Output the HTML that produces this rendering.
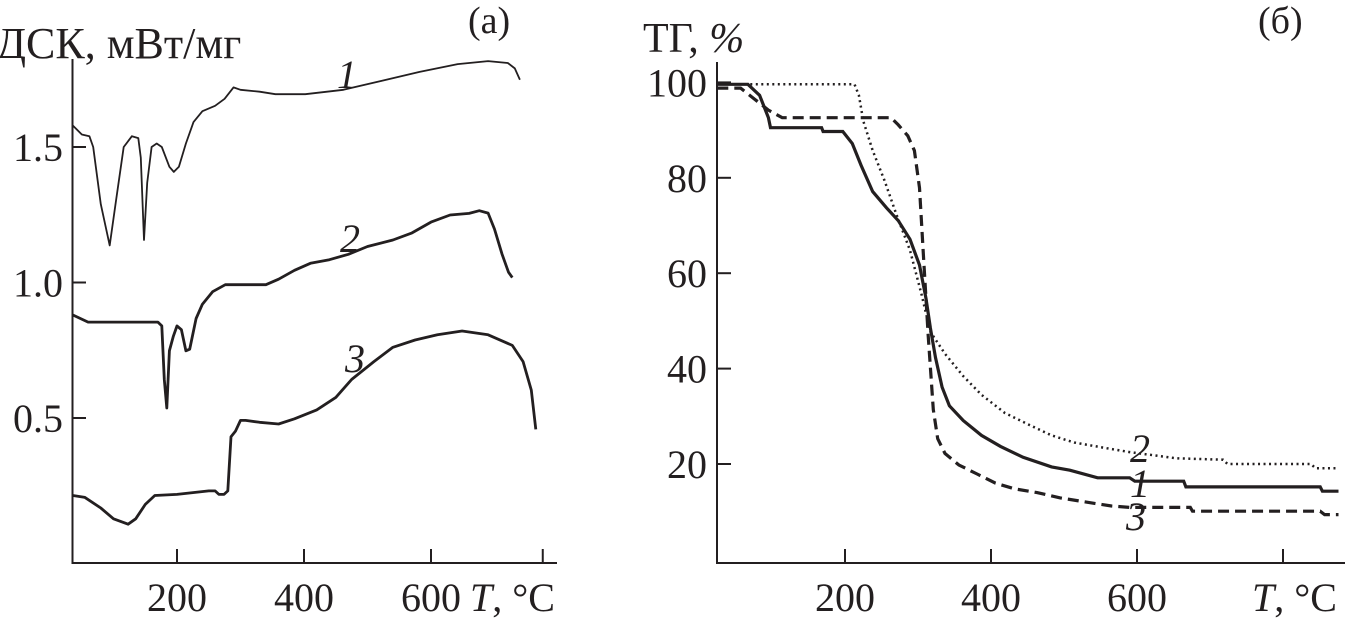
<!DOCTYPE html>
<html><head><meta charset="utf-8"><style>
html,body{margin:0;padding:0;background:#fff}
svg{display:block}
text{font-family:"Liberation Serif",serif;fill:#231f20}
</style></head><body>
<svg id="chart" width="1345" height="620" viewBox="0 0 1345 620">
<g id="left"></g>
<g id="right"></g>
</svg>
<script>
// ---- Left panel (DSC) data ----
const dscXTicks = [200, 400, 600, 776];
const dscXTickLabels = ["200", "400", "600"];
const dscYTicks = [1.5, 1.0, 0.5];
const dscYTickLabels = ["1.5", "1.0", "0.5"];
const dsc1T = [36,50,62,68,80,94,104,116,129,139,143,148,153,160,168,176,188,195,203,214,226,240,260,275,289,300,330,355,402,462,522,582,642,690,721,732,740];
const dsc1V = [1.579,1.546,1.54,1.5,1.289,1.137,1.302,1.5,1.54,1.533,1.46,1.157,1.368,1.5,1.513,1.5,1.427,1.408,1.427,1.513,1.592,1.632,1.652,1.678,1.72,1.711,1.704,1.695,1.695,1.711,1.744,1.777,1.806,1.817,1.81,1.79,1.748];
const dsc2T = [36,60,150,170,176,180,184,188,194,200,207,214,220,230,240,256,276,290,340,360,385,410,440,470,500,540,570,600,630,660,676,690,700,712,722,728];
const dsc2V = [0.88,0.854,0.854,0.854,0.84,0.642,0.537,0.748,0.8,0.84,0.826,0.748,0.754,0.867,0.92,0.966,0.992,0.992,0.992,1.012,1.045,1.071,1.084,1.104,1.133,1.157,1.183,1.223,1.249,1.255,1.265,1.256,1.197,1.104,1.038,1.018];
const dsc3T = [36,55,80,100,123,135,150,165,200,250,260,266,274,280,285,292,300,308,330,360,385,420,450,475,510,540,575,610,649,690,728,745,758,765];
const dsc3V = [0.214,0.207,0.168,0.128,0.108,0.128,0.181,0.214,0.218,0.231,0.231,0.218,0.218,0.231,0.431,0.451,0.491,0.491,0.484,0.478,0.497,0.53,0.576,0.642,0.708,0.761,0.788,0.807,0.821,0.807,0.768,0.708,0.603,0.458];

// ---- Right panel (TG) data ----
const tgXTicks = [200, 400, 600, 800];
const tgXTickLabels = ["200", "400", "600"];
const tgYTicks = [100, 80, 60, 40, 20];
const tgYTickLabels = ["100", "80", "60", "40", "20"];
const tg1T = [25,67,83,95,98,168,170,197,210,222,238,257,273,289,302,311,317,324,333,343,362,387,413,444,483,508,546,590,597,664,667,851,854,876];
const tg1V = [99.6,99.6,97.3,92.6,90.5,90.5,89.7,89.7,87.2,82.6,77.1,73.7,71,67.1,61.7,54.7,48.5,42.3,36.1,32.2,29.1,26,23.7,21.4,19.4,18.7,17.1,17.1,16.4,16.4,15.2,15.2,14.3,14.3];
const tg2T = [25,213,219,225,238,254,270,289,305,317,337,362,387,419,451,483,514,559,590,654,718,724,838,845,876];
const tg2V = [99.6,99.6,97.3,91.9,85.7,79.5,72.5,64.8,55.5,47.7,43.1,38.4,34.5,30.7,28.3,26,24.5,23.3,22.5,21.2,20.9,20,20,19.1,19.1];
const tg3T = [25,57,76,95,114,263,273,286,295,302,308,314,321,327,337,356,381,406,432,463,495,527,565,590,673,676,851,857,876];
const tg3V = [98.8,98.8,96.5,94.2,92.6,92.6,91.1,88.8,85.7,77.9,62.4,46.9,31.4,25.3,22.2,19.8,17.9,16,14.8,14,12.9,12.1,11.2,10.9,10.9,10.1,10.1,9.4,9.4];

const NS = "http://www.w3.org/2000/svg";
function mk(parent, tag, attrs, txt) {
  const e = document.createElementNS(NS, tag);
  for (const k in attrs) e.setAttribute(k, attrs[k]);
  if (txt !== undefined) e.textContent = txt;
  parent.appendChild(e);
  return e;
}
const lx = T => 177 + (T - 200) * 0.635;
const ly = v => 147 + (1.5 - v) * 271;
const rx = T => 845 + (T - 200) * 0.73;
const ry = v => 464 - (v - 20) * 4.77;

function pathD(ts, vs, fx, fy) {
  return ts.map((t, i) => (i ? "L" : "M") + fx(t).toFixed(1) + " " + fy(vs[i]).toFixed(1)).join(" ");
}

const L = document.getElementById("left");
const R = document.getElementById("right");
const stroke = "#231f20";

let e;
e = mk(L, "path", {d: "M72.5 59 V563 H557", fill: "none", stroke: stroke, "stroke-width": 2});


dscXTicks.forEach((t, i) => {
  const x = lx(t);
  e = mk(L, "line", {x1: x, x2: x, y1: 563, y2: 549, stroke: stroke, "stroke-width": 2});
  
  
  if (dscXTickLabels[i]) {
    e = mk(L, "text", {x: x, y: 611, "font-size": 40, "text-anchor": "middle"}, dscXTickLabels[i]);
    
    
  }
});
dscYTicks.forEach((v, i) => {
  const y = ly(v);
  e = mk(L, "line", {x1: 72.5, x2: 86, y1: y, y2: y, stroke: stroke, "stroke-width": 2});
  
  
  e = mk(L, "text", {x: 63, y: y + 14, "font-size": 40, "text-anchor": "end"}, dscYTickLabels[i]);
  
  
});
e = mk(L, "text", {x: -4, y: 58, "font-size": 44}, "ДСК, мВт/мг");


e = mk(L, "text", {x: 468, y: 33, "font-size": 38}, "(a)");


e = mk(L, "text", {x: 470, y: 611, "font-size": 40});
e.innerHTML = '<tspan font-style="italic">T</tspan>, °C';



[[dsc1T, dsc1V, 1.8, 'dsc-curve-1'], [dsc2T, dsc2V, 2.8, 'dsc-curve-2'], [dsc3T, dsc3V, 2.8, 'dsc-curve-3']].forEach(s => {
  e = mk(L, "path", {d: pathD(s[0], s[1], lx, ly), fill: "none", stroke: stroke, "stroke-width": s[2], "stroke-linejoin": "round"});
  
  
});
[["1", 337, 88], ["2", 340, 252], ["3", 345, 372]].forEach(c => {
  e = mk(L, "text", {x: c[1], y: c[2], "font-size": 40, "font-style": "italic"}, c[0]);
  
  
});

e = mk(R, "path", {d: "M717 62 V563 H1345", fill: "none", stroke: stroke, "stroke-width": 2});


tgXTicks.forEach((t, i) => {
  const x = rx(t);
  e = mk(R, "line", {x1: x, x2: x, y1: 563, y2: 549, stroke: stroke, "stroke-width": 2});
  
  
  if (tgXTickLabels[i]) {
    e = mk(R, "text", {x: x, y: 611, "font-size": 40, "text-anchor": "middle"}, tgXTickLabels[i]);
    
    
  }
});
tgYTicks.forEach((v, i) => {
  const y = ry(v);
  e = mk(R, "line", {x1: 717, x2: 731, y1: y, y2: y, stroke: stroke, "stroke-width": 2});
  
  
  e = mk(R, "text", {x: 707, y: y + 14, "font-size": 40, "text-anchor": "end"}, tgYTickLabels[i]);
  
  
});
e = mk(R, "text", {x: 643, y: 52, "font-size": 42});
e.innerHTML = 'ТГ, <tspan font-style="italic">%</tspan>';


e = mk(R, "text", {x: 1258, y: 33, "font-size": 38}, "(б)");


e = mk(R, "text", {x: 1252, y: 611, "font-size": 40});
e.innerHTML = '<tspan font-style="italic">T</tspan>, °C';



e = mk(R, "path", {d: pathD(tg2T, tg2V, rx, ry), fill: "none", stroke: stroke, "stroke-width": 2.5, "stroke-dasharray": "2 3.5"});


e = mk(R, "path", {d: pathD(tg3T, tg3V, rx, ry), fill: "none", stroke: stroke, "stroke-width": 3.2, "stroke-dasharray": "11 6"});


e = mk(R, "path", {d: pathD(tg1T, tg1V, rx, ry), fill: "none", stroke: stroke, "stroke-width": 3.2});


[["2", 1130, 462], ["1", 1130, 497], ["3", 1126, 530]].forEach(c => {
  e = mk(R, "text", {x: c[1], y: c[2], "font-size": 40, "font-style": "italic"}, c[0]);
  
  
});
</script>
</body></html>
